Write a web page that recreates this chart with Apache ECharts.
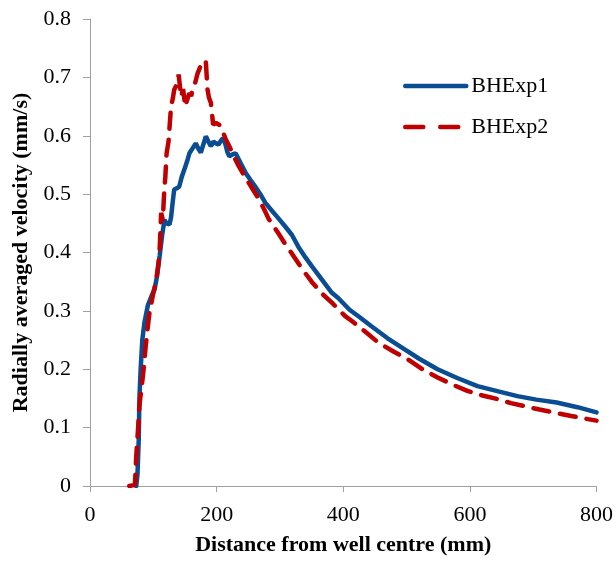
<!DOCTYPE html>
<html>
<head>
<meta charset="utf-8">
<script src="https://cdn.jsdelivr.net/npm/echarts@6/dist/echarts.min.js"></script>
<style>html,body{margin:0;padding:0;background:#fff}#c{width:616px;height:561px}</style>
</head>
<body>
<div id="c"></div>
<script>
const seriesNames = ['BHExp1', 'BHExp2'];
const xTicks = [0, 200, 400, 600, 800];
const yTicks = [0, 0.1, 0.2, 0.3, 0.4, 0.5, 0.6, 0.7, 0.8];

const bhexp1 = [
  [73,0],[75,0.02],[77,0.08],[78,0.15],[80,0.2],[82.6,0.25],[86,0.28],[91.5,0.31],[97,0.325],[102,0.337],
  [106,0.36],[110,0.394],[114,0.43],[117.6,0.456],[121,0.45],[125.5,0.448],[128,0.46],[131,0.49],[133,0.508],
  [137,0.51],[141,0.513],[145,0.53],[149,0.542],[153,0.555],[157,0.57],[160,0.575],[163,0.572],[167,0.587],
  [171,0.578],[175,0.571],[179,0.585],[183,0.599],[187,0.59],[191,0.582],[195,0.59],[199,0.587],[203,0.585],
  [207,0.592],[210,0.596],[214,0.585],[217,0.572],[220,0.565],[225,0.568],[230,0.57],[238,0.553],[246,0.536],
  [253,0.525],[261,0.513],[269,0.5],[277,0.485],[287,0.472],[298,0.458],[308,0.445],[319,0.43],[329,0.41],
  [340,0.392],[350,0.377],[366,0.354],[382,0.331],[392,0.322],[410,0.302],[425,0.29],[444,0.274],[470,0.253],
  [497,0.234],[520,0.218],[549,0.2],[580,0.185],[612,0.171],[645,0.162],[675,0.154],[705,0.148],[737,0.143],
  [770,0.135],[800,0.126]
];

const bhexp2 = [
  [62,0],[71,0.002],[73,0.05],[76,0.1],[78,0.137],[81,0.165],[83.6,0.189],[86,0.215],[88,0.24],[91,0.27],
  [94,0.297],[99,0.325],[104.6,0.354],[108,0.38],[110,0.405],[112.4,0.468],[115,0.456],[117,0.5],[119,0.53],
  [121,0.57],[124,0.59],[126,0.62],[128,0.65],[131,0.665],[133,0.679],[136,0.68],[138,0.69],[140,0.705],
  [142,0.685],[144,0.667],[147,0.68],[150.6,0.65],[153,0.66],[157,0.673],[160,0.668],[162,0.681],[166,0.69],
  [170,0.707],[173,0.715],[175,0.721],[179,0.718],[183,0.726],[185.6,0.679],[188,0.665],[191,0.656],
  [194.5,0.619],[199,0.622],[204,0.619],[209,0.61],[214,0.595],[220,0.582],[227,0.565],[235,0.548],[243,0.533],
  [251,0.519],[259,0.505],[267,0.491],[275,0.474],[282,0.458],[290,0.445],[298,0.432],[308,0.415],[319,0.398],
  [335,0.372],[350,0.35],[366,0.33],[382,0.314],[403,0.291],[413,0.283],[434,0.265],[455,0.246],[480,0.23],
  [502,0.217],[525,0.2],[549,0.186],[572,0.174],[596,0.163],[620,0.155],[643,0.149],[665,0.142],[685,0.137],
  [710,0.131],[732,0.126],[760,0.12],[784,0.115],[800,0.112]
];

const chart = echarts.init(document.getElementById('c'), null, {renderer: 'canvas'});
const font = 'Liberation Serif';
chart.setOption({
  animation: false,
  backgroundColor: '#fff',
  grid: {left: 90, right: 16, top: 19, bottom: 74},
  legend: {
    orient: 'vertical', left: 398, top: 70, itemWidth: 61, itemHeight: 14, itemGap: 19,
    textStyle: {fontFamily: font, fontSize: 22, color: '#000'},
    itemStyle: {opacity: 0},
    lineStyle: {width: 4.5, cap: 'round', type: [18, 17]},
    data: [
      {name: seriesNames[0], lineStyle: {width: 4.5, type: 'solid', cap: 'round'}},
      {name: seriesNames[1]}
    ]
  },
  xAxis: {
    type: 'value', min: xTicks[0], max: xTicks[xTicks.length - 1], interval: 200,
    name: 'Distance from well centre (mm)', nameLocation: 'middle', nameGap: 48,
    nameTextStyle: {fontFamily: font, fontSize: 22, fontWeight: 'bold', color: '#000'},
    axisLine: {lineStyle: {color: '#a0a0a0', width: 1}},
    axisTick: {show: true, length: 6, lineStyle: {color: '#a0a0a0'}},
    axisLabel: {fontFamily: font, fontSize: 22, color: '#000', margin: 18},
    splitLine: {show: false}
  },
  yAxis: {
    type: 'value', min: yTicks[0], max: yTicks[yTicks.length - 1], interval: 0.1,
    name: 'Radially averaged velocity (mm/s)', nameLocation: 'middle', nameGap: 52,
    nameTextStyle: {fontFamily: font, fontSize: 22, fontWeight: 'bold', color: '#000'},
    axisLine: {show: true, lineStyle: {color: '#a0a0a0', width: 1}},
    axisTick: {show: true, length: 7, lineStyle: {color: '#a0a0a0'}},
    axisLabel: {fontFamily: font, fontSize: 22, color: '#000', margin: 19,
      formatter: v => v === 0 ? '0' : v.toFixed(1)},
    splitLine: {show: false}
  },
  series: [
    {name: seriesNames[0], type: 'line', data: bhexp1, symbol: 'none', smooth: false,
      lineStyle: {color: '#0b4d93', width: 4.5, cap: 'round'}, itemStyle: {color: '#0b4d93'}},
    {name: seriesNames[1], type: 'line', data: bhexp2, symbol: 'none', smooth: false,
      lineStyle: {color: '#c00000', width: 4.5, type: [16, 11], cap: 'round'}, itemStyle: {color: '#c00000'}}
  ]
});
</script>
</body>
</html>
